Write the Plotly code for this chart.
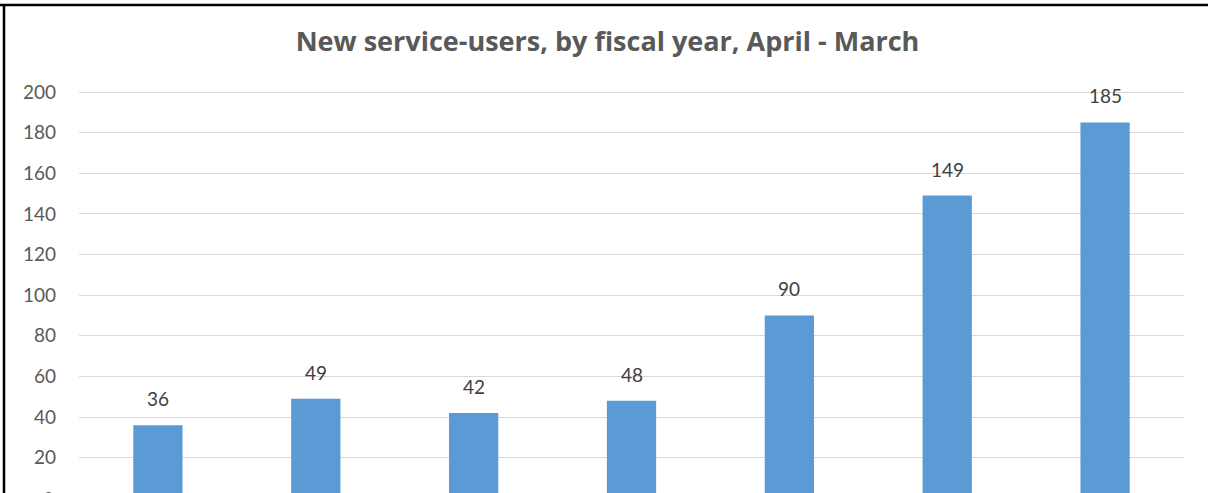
import plotly.graph_objects as go

# Fiscal years (April - March) and number of new service-users in each
years = ["2011/12", "2012/13", "2013/14", "2014/15", "2015/16", "2016/17", "2017/18"]
new_users = [36, 49, 42, 48, 90, 149, 185]
y_ticks = [20, 40, 60, 80, 100, 120, 140, 160, 180, 200]

W, H = 1209, 493
ML, MR, MT, MB = 79, 25, 80, 0
plot_w = W - ML - MR
plot_h = H - MT - MB

# axis range chosen so the 20-unit gridlines fall every ~40.6 px
px_per_unit = 40.63 / 20
y_top = 200 + 12 / px_per_unit
y_bottom = y_top - plot_h / px_per_unit

BAR = "#5B9BD5"
GRID = "#D9D9D9"
TXT = "#595959"
FONT = "Lato, Open Sans, sans-serif"


def px_x(x):
    return (x - ML) / plot_w


def px_y(y):
    return (H - MB - y) / plot_h


fig = go.Figure(
    go.Bar(
        x=years,
        y=new_users,
        marker=dict(color=BAR, line=dict(width=0)),
        hoverinfo="x+y",
    )
)

# value labels above each bar
for yr, v in zip(years, new_users):
    fig.add_annotation(
        x=yr, y=v, text=str(v), showarrow=False,
        yanchor="bottom", xanchor="center", yshift=13,
        font=dict(family=FONT, size=19, color="#404040"),
    )

# the 0 tick sits just below the visible edge
fig.add_annotation(
    x=px_x(56), y=(0 - y_bottom) / (y_top - y_bottom),
    xref="paper", yref="paper", text="0", showarrow=False,
    xanchor="right", yanchor="middle",
    font=dict(family=FONT, size=19, color=TXT),
)

# chart frame (top and left edges)
fig.add_shape(type="line", xref="paper", yref="paper",
              x0=px_x(0), x1=px_x(1208), y0=px_y(5), y1=px_y(5),
              line=dict(color="black", width=2.5))
fig.add_shape(type="line", xref="paper", yref="paper",
              x0=px_x(4), x1=px_x(4), y0=px_y(4), y1=px_y(H + 5),
              line=dict(color="black", width=2.5))

fig.update_layout(
    width=W, height=H,
    margin=dict(l=ML, r=MR, t=MT, b=MB, pad=0),
    paper_bgcolor="white", plot_bgcolor="white",
    bargap=0.688,
    showlegend=False,
    title=dict(
        text="<b>New service-users, by fiscal year, April - March</b>",
        x=607.5 / W, xanchor="center", y=1 - 42 / H, yanchor="middle",
        font=dict(family="Open Sans, Lato, sans-serif", size=27, color=TXT),
    ),
    xaxis=dict(showgrid=False, showline=False, zeroline=False,
               showticklabels=False, ticks=""),
    yaxis=dict(
        range=[y_bottom, y_top], tickvals=y_ticks,
        showgrid=True, gridcolor=GRID, gridwidth=1.3,
        zeroline=False, showline=False, ticks="",
        ticklabelstandoff=22,
        tickfont=dict(family=FONT, size=19, color=TXT),
    ),
)

fig.write_html("out.html")
